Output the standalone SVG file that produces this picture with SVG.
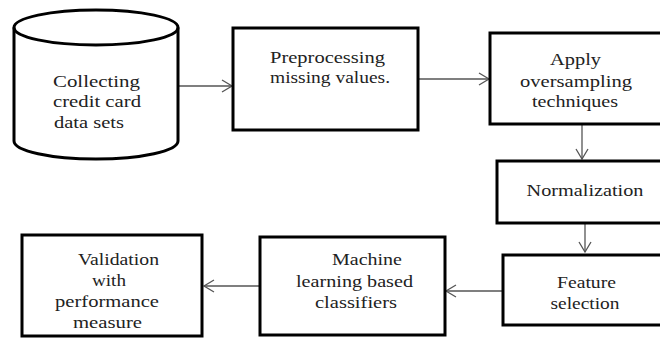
<svg xmlns="http://www.w3.org/2000/svg" width="660" height="338" viewBox="0 0 660 338">
<defs>
<style>
.box{fill:#fff;stroke:#000;stroke-width:3}
.conn{stroke:#555;stroke-width:1.3;fill:none}
</style>
<marker id="arr" markerWidth="14" markerHeight="14" refX="11" refY="7" orient="auto" markerUnits="userSpaceOnUse">
<path d="M1,1 L11,7 L1,13" fill="none" stroke="#555" stroke-width="1.3"/>
</marker>
</defs>
<rect width="660" height="338" fill="#fff"/>
<g id="connectors">
<line class="conn" x1="178" y1="86" x2="232" y2="86" marker-end="url(#arr)"/>
<line class="conn" x1="418" y1="79" x2="489" y2="79" marker-end="url(#arr)"/>
<line class="conn" x1="582" y1="124" x2="582" y2="159" marker-end="url(#arr)"/>
<line class="conn" x1="585" y1="223" x2="585" y2="252" marker-end="url(#arr)"/>
<line class="conn" x1="503" y1="291" x2="446" y2="291" marker-end="url(#arr)"/>
<line class="conn" x1="260" y1="286" x2="204" y2="286" marker-end="url(#arr)"/>
</g>
<g font-family="Liberation Serif, Times New Roman, Times, serif" font-size="17.5" fill="#222">
<g id="n1">
<path class="box" d="M14,27.5 L14,141 A82,18 0 0 0 178,141 L178,27.5 A82,17.5 0 0 0 14,27.5 Z"/>
<path d="M14,27.5 A82,17.5 0 0 0 178,27.5" fill="none" stroke="#000" stroke-width="3"/>
<text x="53" y="87" textLength="87" lengthAdjust="spacingAndGlyphs">Collecting</text>
<text x="53" y="107" textLength="88" lengthAdjust="spacingAndGlyphs">credit card</text>
<text x="54" y="128" textLength="70" lengthAdjust="spacingAndGlyphs">data sets</text>
</g>
<g id="n2">
<rect class="box" x="233" y="28" width="185" height="102"/>
<text x="270" y="63" textLength="115" lengthAdjust="spacingAndGlyphs">Preprocessing</text>
<text x="270" y="83" textLength="120" lengthAdjust="spacingAndGlyphs">missing values.</text>
</g>
<g id="n3" text-anchor="middle">
<rect class="box" x="490" y="33" width="185" height="91"/>
<text x="575.5" y="65" textLength="51" lengthAdjust="spacingAndGlyphs">Apply</text>
<text x="576" y="87" textLength="112" lengthAdjust="spacingAndGlyphs">oversampling</text>
<text x="575" y="107" textLength="86" lengthAdjust="spacingAndGlyphs">techniques</text>
</g>
<g id="n4" text-anchor="middle">
<rect class="box" x="497" y="161" width="180" height="62"/>
<text x="585" y="196" textLength="117" lengthAdjust="spacingAndGlyphs">Normalization</text>
</g>
<g id="n5" text-anchor="middle">
<rect class="box" x="503" y="255" width="175" height="70"/>
<text x="586.5" y="288" textLength="59" lengthAdjust="spacingAndGlyphs">Feature</text>
<text x="585" y="309" textLength="69" lengthAdjust="spacingAndGlyphs">selection</text>
</g>
<g id="n6" text-anchor="middle">
<rect class="box" x="260" y="237" width="185" height="98"/>
<text x="367" y="265" textLength="70" lengthAdjust="spacingAndGlyphs">Machine</text>
<text x="354.5" y="287" textLength="117" lengthAdjust="spacingAndGlyphs">learning based</text>
<text x="356" y="308" textLength="82" lengthAdjust="spacingAndGlyphs">classifiers</text>
</g>
<g id="n7" text-anchor="middle">
<rect class="box" x="22" y="235" width="180" height="101"/>
<text x="118.5" y="265" textLength="81" lengthAdjust="spacingAndGlyphs">Validation</text>
<text x="109" y="286" textLength="34" lengthAdjust="spacingAndGlyphs">with</text>
<text x="107" y="307" textLength="104" lengthAdjust="spacingAndGlyphs">performance</text>
<text x="107.5" y="328" textLength="69" lengthAdjust="spacingAndGlyphs">measure</text>
</g>
</g>
</svg>
